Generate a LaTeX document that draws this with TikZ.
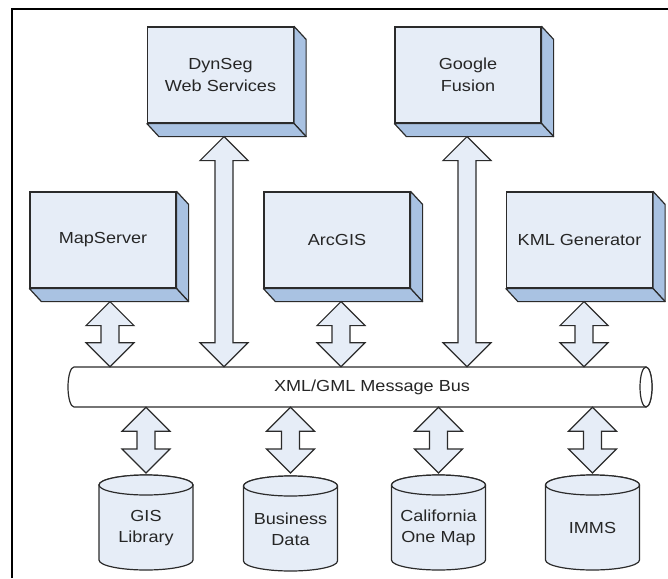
\documentclass[tikz,border=0pt]{standalone}
\usepackage{fontspec}
\setmainfont{Liberation Sans}[FakeStretch=1.13]
\usetikzlibrary{calc}
\definecolor{face}{HTML}{E6EDF7}
\definecolor{side}{HTML}{A9C2E2}
\definecolor{edge}{HTML}{2B2B2B}
\definecolor{txt}{HTML}{262626}
\tikzset{
  frontbox/.style={draw=edge, fill=face, line width=1.2pt, minimum width=146pt, minimum height=96pt,
    inner sep=0pt, align=center, text=txt, font=\fontsize{16}{22}\selectfont},
  sideface/.style={draw=edge, fill=side, line width=1.2pt, line join=round},
  blockarrow/.style={draw=edge, fill=face, line width=1.2pt, line join=miter},
  dbshape/.style={draw=edge, fill=face, line width=1.2pt},
  dbtext/.style={align=center, text=txt, inner sep=0pt, font=\fontsize{16}{21}\selectfont},
  bustext/.style={text=txt, inner sep=0pt, minimum height=40pt, font=\fontsize{16}{20}\selectfont},
  busshape/.style={draw=edge, fill=white, line width=1.2pt},
}
\newcommand{\boxfaces}[1]{%
  \path[sideface] (#1.north east) -- ([shift={(12,13)}]#1.north east) -- ([shift={(12,13)}]#1.south east) -- (#1.south east) -- cycle;
  \path[sideface] (#1.south west) -- (#1.south east) -- ([shift={(12,13)}]#1.south east) -- ([shift={(12,13)}]#1.south west) -- cycle;
}
\newcommand{\dblarrow}[2]{%
  \path[blockarrow] let \p1=(#1), \p2=(#2) in
    (\x1,\y1) -- (\x1+24pt,\y1-24pt) -- (\x1+9pt,\y1-24pt) -- (\x1+9pt,\y2+24pt) -- (\x1+24pt,\y2+24pt)
    -- (\x1,\y2) -- (\x1-24pt,\y2+24pt) -- (\x1-9pt,\y2+24pt) -- (\x1-9pt,\y1-24pt) -- (\x1-24pt,\y1-24pt) -- cycle;
}
\newcommand{\dbcyl}[1]{%
  \path[dbshape] let \p1=(#1) in
    (\x1-47pt,\y1+43pt) -- (\x1-47pt,\y1-32pt) arc[start angle=180,end angle=360,x radius=47pt,y radius=10pt]
    -- (\x1+47pt,\y1+43pt) arc[start angle=0,end angle=180,x radius=47pt,y radius=10pt] -- cycle;
  \path[dbshape] let \p1=(#1) in (\x1,\y1+43pt) ellipse[x radius=47pt,y radius=10pt];
}
\begin{document}
\begin{tikzpicture}[x=1pt,y=-1pt]
\useasboundingbox (0,0) rectangle (668,578);
% frame
\draw[line width=2.6pt] (12,578) -- (12,9) -- (668,9);

% boxes
\node[frontbox] (dyn) at (220.5,75) {DynSeg\\Web Services};
\boxfaces{dyn}
\node[frontbox] (goo) at (468,75) {Google\\Fusion};
\boxfaces{goo}
\node[frontbox] (ms) at (103,240) {MapServer};
\boxfaces{ms}
\node[frontbox] (arc) at (337,240) {ArcGIS};
\boxfaces{arc}
\node[frontbox] (kml) at (579.5,240) {KML Generator};
\boxfaces{kml}

% bus
\path[busshape] (74,367) arc[start angle=90,end angle=270,x radius=6pt,y radius=20pt]
  -- (646,407) arc[start angle=-90,end angle=90,x radius=6pt,y radius=20pt] -- cycle;
\path[busshape] (646,387) ellipse[x radius=6pt,y radius=20pt];
\node[bustext] (bus) at (372,387) {XML/GML Message Bus};

% databases
\coordinate (gisc) at (146,528);
\coordinate (busc) at (290.5,529);
\coordinate (calc) at (438.5,528);
\coordinate (immc) at (592.5,528);
\dbcyl{gisc}
\dbcyl{busc}
\dbcyl{calc}
\dbcyl{immc}
\node[dbtext] (gis) at (gisc) {GIS\\Library};
\node[dbtext] (bdata) at (busc) {Business\\Data};
\node[dbtext] (cal) at (calc) {California\\One Map};
\node[dbtext] (imms) at (immc) {IMMS};

% arrow end points
\coordinate (a1) at ([shift={(7,13)}]ms.south);
\coordinate (a2) at ([shift={(3.5,13)}]dyn.south);
\coordinate (a3) at ([shift={(4,13)}]arc.south);
\coordinate (a4) at ([shift={(-1,13)}]goo.south);
\coordinate (a5) at ([shift={(4.5,13)}]kml.south);
\coordinate (b1) at ([shift={(0,-55)}]gis.center);
\coordinate (b2) at ([shift={(0,-56)}]bdata.center);
\coordinate (b3) at ([shift={(0,-55)}]cal.center);
\coordinate (b4) at ([shift={(0,-55)}]imms.center);

\dblarrow{a1}{a1 |- bus.north}
\dblarrow{a2}{a2 |- bus.north}
\dblarrow{a3}{a3 |- bus.north}
\dblarrow{a4}{a4 |- bus.north}
\dblarrow{a5}{a5 |- bus.north}
\dblarrow{b1 |- bus.south}{b1}
\dblarrow{b2 |- bus.south}{b2}
\dblarrow{b3 |- bus.south}{b3}
\dblarrow{b4 |- bus.south}{b4}
\end{tikzpicture}
\end{document}
